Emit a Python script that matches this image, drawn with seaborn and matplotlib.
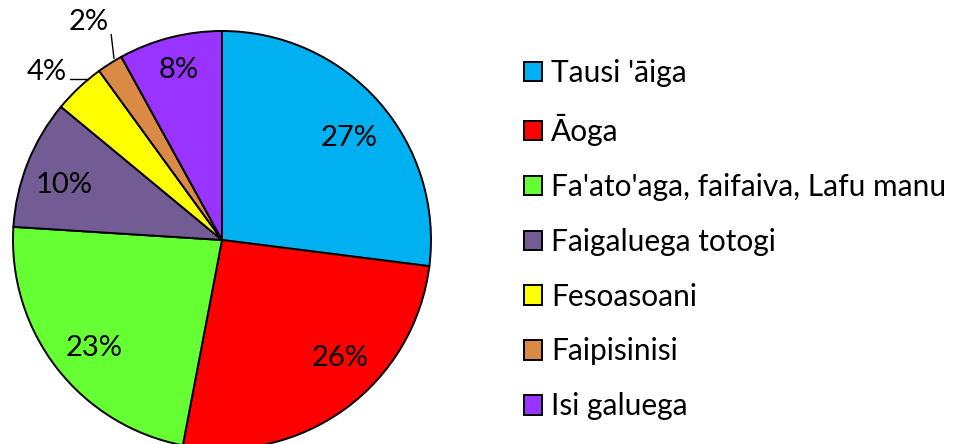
import numpy as np
import matplotlib.pyplot as plt
import seaborn as sns

sns.set_theme(style="white")
plt.rcParams['font.family'] = ['Lato', 'DejaVu Sans']

categories = ["Tausi 'āiga", "Āoga", "Fa'ato'aga, faifaiva, Lafu manu",
              "Faigaluega totogi", "Fesoasoani", "Faipisinisi", "Isi galuega"]
shares = [27, 26, 23, 10, 4, 2, 8]
colors = ["#00B0F0", "#FF0000", "#66FF33", "#735B94", "#FFFF00", "#DB8A45", "#9933FF"]

# label placement tweaks (degrees off the slice middle, radius as fraction of R)
label_shift = {"Tausi 'āiga": (-2.5, 0.78), "Āoga": (9, 0.8), "Fa'ato'aga, faifaiva, Lafu manu": (2.5, 0.8),
               "Faigaluega totogi": (2.5, 0.8), "Isi galuega": (0, 0.84)}
# small slices get their label outside with a leader line
outside = {"Fesoasoani": (1.16, 3), "Faipisinisi": (1.22, -1)}

W, H = 955, 444
fig = plt.figure(figsize=(W / 100, H / 100), dpi=100)
ax = fig.add_axes([0, 0, 1, 1])

cx, cy, R = 222, 204, 209
wedges, _ = ax.pie(shares, colors=colors, startangle=90, counterclock=False,
                   center=(cx, cy), radius=R, frame=True,
                   wedgeprops=dict(edgecolor="black", linewidth=1.4))
ax.set_xlim(0, W)
ax.set_ylim(0, H)
ax.axis('off')

fs = 21
for w, name, val in zip(wedges, categories, shares):
    mid = (w.theta1 + w.theta2) / 2
    if name in outside:
        dist, dang = outside[name]
        a = np.deg2rad(mid + dang)
        tx, ty = cx + dist * R * np.cos(a), cy + dist * R * np.sin(a)
        ex, ey = cx + R * np.cos(np.deg2rad(mid)), cy + R * np.sin(np.deg2rad(mid))
        if dang > 0:
            ly = ty - 7
            lx = cx - np.sqrt(R ** 2 - (ly - cy) ** 2)
            ax.plot([tx + 23, lx], [ly, ly], color="black", lw=1)
        else:
            ax.plot([tx + 22, ex + 4], [ty - 12, ey + 5], color="black", lw=1)
        ax.text(tx, ty, f"{val}%", ha="center", va="center", fontsize=fs, color="black")
    else:
        dang, dist = label_shift[name]
        a = np.deg2rad(mid + dang)
        tx, ty = cx + dist * R * np.cos(a), cy + dist * R * np.sin(a)
        ax.text(tx, ty, f"{val}%", ha="center", va="center", fontsize=fs, color="black")

leg = ax.legend(wedges, categories, loc="upper left", bbox_to_anchor=(512 / W, 1 - 47 / H),
                frameon=False, fontsize=21.5, handlelength=0.62, handleheight=0.62,
                handletextpad=0.3, labelspacing=0.9, borderaxespad=0)
for t in leg.get_texts():
    t.set_color("black")
for h in leg.legend_handles:
    h.set_linewidth(1.4)
    h.set_edgecolor("black")

fig.savefig("out.png", dpi=100)
